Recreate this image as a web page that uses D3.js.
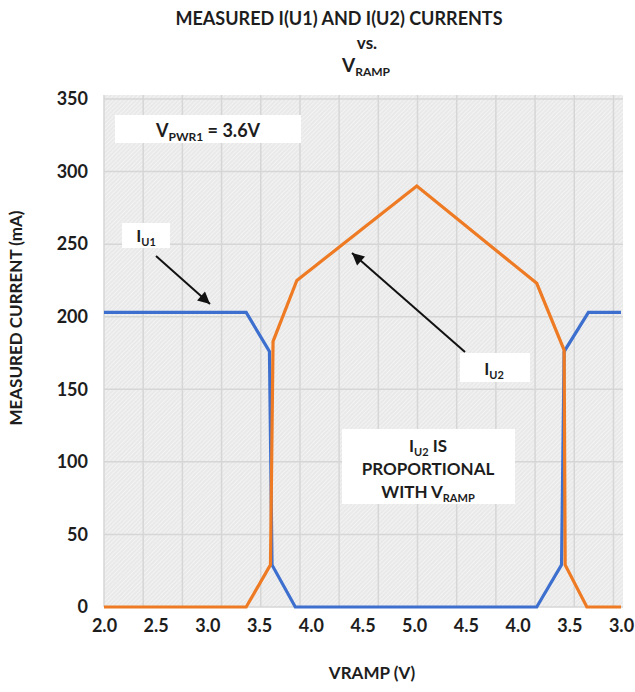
<!DOCTYPE html>
<html>
<head>
<meta charset="utf-8">
<script src="https://cdn.jsdelivr.net/npm/d3@7"></script>
<style>
  html, body { margin: 0; padding: 0; background: #ffffff; }
  svg { display: block; }
  text { font-family: Lato, "Open Sans", sans-serif; fill: #1d1d1d; }
</style>
</head>
<body>
<svg id="chart" width="635" height="692"></svg>
<script>
// ---------- data ----------
const rampLabels = ["2.0","2.5","3.0","3.5","4.0","4.5","5.0","4.5","4.0","3.5","3.0"];
const yTickValues = [0, 50, 100, 150, 200, 250, 300, 350];

// x = position along the up/down VRAMP sweep (0 = 2.0 V start, 6 = 5.0 V, 10 = 3.0 V end)
const u1Step    = [0, 2.75, 3.20, 3.25, 3.70, 8.37, 8.85, 8.90, 9.37, 10];
const u1Current = [203, 203, 176, 29, 0, 0, 29, 176, 203, 203];

const u2Step    = [0, 2.75, 3.22, 3.27, 3.73, 6.05, 8.37, 8.90, 8.92, 9.34, 10];
const u2Current = [0, 0, 29, 183, 225, 290, 223, 177, 29, 0, 0];

// ---------- layout ----------
const svg = d3.select("#chart");
const plotL = 104, plotR = 621, plotT = 99, plotB = 607;

const x = d3.scaleLinear().domain([0, 10]).range([plotL, plotR]);
const y = d3.scaleLinear().domain([0, 350]).range([plotB, plotT]);

const defs = svg.append("defs");
const pat = defs.append("pattern")
  .attr("id", "hatch").attr("width", 3).attr("height", 3)
  .attr("patternUnits", "userSpaceOnUse")
  .attr("patternTransform", "rotate(45)");
pat.append("rect").attr("width", 3).attr("height", 3).attr("fill", "#e9e9e9");
pat.append("line").attr("x1", 0).attr("y1", 0).attr("x2", 0).attr("y2", 3)
  .attr("stroke", "#f7f7f7").attr("stroke-width", 1.5);

defs.append("marker")
  .attr("id", "arrow").attr("viewBox", "0 0 10 10")
  .attr("refX", 10).attr("refY", 5)
  .attr("markerWidth", 7).attr("markerHeight", 6)
  .attr("markerUnits", "strokeWidth")
  .attr("orient", "auto")
  .append("path").attr("d", "M0,0 L10,5 L0,10 Z").attr("fill", "#111");

// plot background
svg.append("rect")
  .attr("x", plotL).attr("y", plotT - 4)
  .attr("width", x(10) - plotL + 2).attr("height", plotB - plotT + 4)
  .attr("fill", "url(#hatch)");

// grid lines
const gridG = svg.append("g");
gridG.selectAll("line.h").data(yTickValues).enter().append("line")
  .attr("x1", plotL).attr("x2", x(10) + 2)
  .attr("y1", d => y(d)).attr("y2", d => y(d))
  .attr("stroke", "#d6d6d6").attr("stroke-width", 1.5);
const vGrid = d3.range(0, 14).map(k => k * 0.758);
gridG.selectAll("line.v").data(vGrid).enter().append("line")
  .attr("x1", d => x(d)).attr("x2", d => x(d))
  .attr("y1", plotT - 4).attr("y2", plotB)
  .attr("stroke", "#d6d6d6").attr("stroke-width", 1.5);

// axes (labels only)
const yAxis = d3.axisLeft(y).tickValues(yTickValues).tickSize(0).tickPadding(0);
const yG = svg.append("g").attr("transform", `translate(${plotL - 16},0)`).call(yAxis);
yG.select(".domain").remove();
yG.selectAll("text")
  .style("font-family", "Lato, sans-serif").style("font-size", "18px")
  .style("font-weight", "bold").attr("fill", "#1d1d1d");

const xAxis = d3.axisBottom(x).tickValues(d3.range(0, 11))
  .tickFormat(i => rampLabels[i]).tickSize(0).tickPadding(0);
const xG = svg.append("g").attr("transform", `translate(0,${plotB + 12})`).call(xAxis);
xG.select(".domain").remove();
xG.selectAll("text")
  .style("font-family", "Lato, sans-serif").style("font-size", "18px")
  .style("font-weight", "bold").attr("fill", "#1d1d1d");

// series lines
const line = d3.line().x(d => x(d[0])).y(d => y(d[1]));
svg.append("path")
  .datum(d3.zip(u1Step, u1Current))
  .attr("d", line).attr("fill", "none")
  .attr("stroke", "#3d6fcf").attr("stroke-width", 3.2)
  .attr("stroke-linejoin", "miter");
svg.append("path")
  .datum(d3.zip(u2Step, u2Current))
  .attr("d", line).attr("fill", "none")
  .attr("stroke", "#ee7b24").attr("stroke-width", 3.2)
  .attr("stroke-linejoin", "miter");

// helper for text with subscript
function subText(g, xPos, yPos, parts, size, anchor) {
  const t = g.append("text").attr("x", xPos).attr("y", yPos)
    .attr("text-anchor", anchor || "middle")
    .style("font-size", size + "px").style("font-weight", "bold");
  parts.forEach(p => {
    const ts = t.append("tspan").text(p.t);
    if (p.sub) {
      ts.style("font-size", Math.round(size * 0.64) + "px").attr("dy", 4);
    } else if (p.after) {
      ts.attr("dy", -4);
    }
  });
  return t;
}

// titles
svg.append("text").attr("x", 339).attr("y", 25).attr("text-anchor", "middle")
  .style("font-size", "18px").style("font-weight", "bold")
  .text("MEASURED I(U1) AND I(U2) CURRENTS");
svg.append("text").attr("x", 367).attr("y", 49).attr("text-anchor", "middle")
  .style("font-size", "17px").style("font-weight", "bold").text("vs.");
subText(svg, 366, 72, [{t: "V"}, {t: "RAMP", sub: true}], 19, "middle");

svg.append("text")
  .attr("transform", "translate(22,318) rotate(-90)")
  .attr("text-anchor", "middle")
  .style("font-size", "17px").style("font-weight", "bold")
  .text("MEASURED CURRENT (mA)");

svg.append("text").attr("x", 372).attr("y", 679).attr("text-anchor", "middle")
  .style("font-size", "17px").style("font-weight", "bold")
  .text("VRAMP (V)");

// annotation boxes
const ann = svg.append("g");
ann.append("rect").attr("x", 115).attr("y", 115).attr("width", 186).attr("height", 28).attr("fill", "#fff");
subText(ann, 156, 137, [{t: "V"}, {t: "PWR1", sub: true}, {t: " = 3.6V", after: true}], 18, "start");

ann.append("rect").attr("x", 122).attr("y", 223).attr("width", 48).attr("height", 25).attr("fill", "#fff");
subText(ann, 146, 242, [{t: "I"}, {t: "U1", sub: true}], 17, "middle");

ann.append("rect").attr("x", 460).attr("y", 353).attr("width", 70).attr("height", 29).attr("fill", "#fff");
subText(ann, 494, 375, [{t: "I"}, {t: "U2", sub: true}], 17, "middle");

ann.append("rect").attr("x", 342).attr("y", 429).attr("width", 173).attr("height", 75).attr("fill", "#fff");
subText(ann, 428, 452, [{t: "I"}, {t: "U2", sub: true}, {t: " IS", after: true}], 17, "middle");
ann.append("text").attr("x", 428).attr("y", 475).attr("text-anchor", "middle")
  .style("font-size", "17px").style("font-weight", "bold").text("PROPORTIONAL");
subText(ann, 428, 498, [{t: "WITH V"}, {t: "RAMP", sub: true}], 17, "middle");

// arrows
ann.append("line").attr("x1", 156).attr("y1", 256).attr("x2", 210).attr("y2", 304)
  .attr("stroke", "#111").attr("stroke-width", 2).attr("marker-end", "url(#arrow)");
ann.append("line").attr("x1", 465).attr("y1", 352).attr("x2", 352).attr("y2", 253)
  .attr("stroke", "#111").attr("stroke-width", 2).attr("marker-end", "url(#arrow)");
</script>
</body>
</html>
